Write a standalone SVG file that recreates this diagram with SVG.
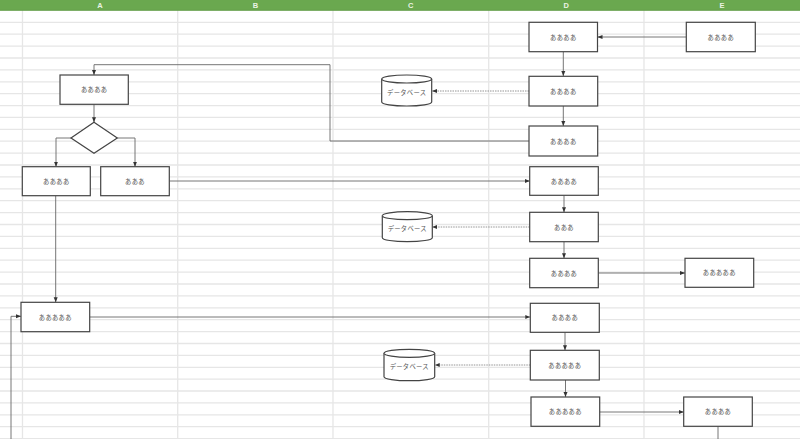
<svg xmlns="http://www.w3.org/2000/svg" width="800" height="439" viewBox="0 0 800 439">
<defs>
<style>
.grid{stroke:#e6e6e6;stroke-width:1.3;fill:none}
.hdr{fill:#6aa84f}
.hl{font-family:"Liberation Sans",Arial,sans-serif;font-size:7.5px;fill:#eaf3e4;text-anchor:middle;font-weight:bold}
.box{fill:#fff;stroke:#444;stroke-width:1.2}
.t{font-family:"Noto Sans CJK JP","Noto Sans",sans-serif;font-size:6.3px;letter-spacing:0.3px;fill:#555;text-anchor:middle;dominant-baseline:central}
.c{fill:none;stroke:#666;stroke-width:0.9}
.d{fill:none;stroke:#888;stroke-width:0.9;stroke-dasharray:1.5 1}
</style>
<marker id="ah" viewBox="0 0 10 10" refX="10" refY="5" markerWidth="5" markerHeight="5" orient="auto" markerUnits="userSpaceOnUse">
<path d="M0,1 L10,5 L0,9 Z" fill="#333"/>
</marker>
</defs>
<rect width="800" height="439" fill="#fff"/>
<g id="grid">
<path class="grid" d="M0 22.3H800M0 34.2H800M0 46.1H800M0 58H800M0 69.9H800M0 81.8H800M0 93.7H800M0 105.6H800M0 117.4H800M0 129.3H800M0 141.2H800M0 153.1H800M0 165H800M0 176.9H800M0 188.8H800M0 200.7H800M0 212.6H800M0 224.5H800M0 236.4H800M0 248.3H800M0 260.2H800M0 272.1H800M0 284H800M0 295.9H800M0 307.8H800M0 319.7H800M0 331.6H800M0 343.5H800M0 355.4H800M0 367.3H800M0 379.2H800M0 391H800M0 402.9H800M0 414.8H800M0 426.7H800M0 438.6H800"/>
<path class="grid" d="M22.5 10V439M177.7 10V439M333 10V439M488.7 10V439M644 10V439"/>
</g>
<g id="header">
<rect class="hdr" x="0" y="0" width="800" height="10.5"/>
<line x1="0" y1="10.3" x2="800" y2="10.3" stroke="#5f9a46" stroke-width="0.8"/>
<text class="hl" x="100" y="7.5">A</text>
<text class="hl" x="255.5" y="7.5">B</text>
<text class="hl" x="410.8" y="7.5">C</text>
<text class="hl" x="566.3" y="7.5">D</text>
<text class="hl" x="722" y="7.5">E</text>
</g>
<g id="connectors">
<path class="c" d="M686 37H597.5" marker-end="url(#ah)"/>
<path class="c" d="M563.3 51.7V76" marker-end="url(#ah)"/>
<path class="d" d="M529 91H432" marker-end="url(#ah)"/>
<path class="c" d="M563.3 106V126" marker-end="url(#ah)"/>
<path class="c" d="M529 141H330V64.7H94V75" marker-end="url(#ah)"/>
<path class="c" d="M94 104.3V122.3" marker-end="url(#ah)"/>
<path class="c" d="M71 138H56V166.7" marker-end="url(#ah)"/>
<path class="c" d="M117.3 138H135V166.7" marker-end="url(#ah)"/>
<path class="c" d="M169.3 181H529.7" marker-end="url(#ah)"/>
<path class="c" d="M564 195.3V212.3" marker-end="url(#ah)"/>
<path class="d" d="M529.7 227H432.3" marker-end="url(#ah)"/>
<path class="c" d="M564 241.7V258.3" marker-end="url(#ah)"/>
<path class="c" d="M598.3 273H685" marker-end="url(#ah)"/>
<path class="c" d="M55.7 195.7V302.3" marker-end="url(#ah)"/>
<path class="c" d="M89.7 317H530.3" marker-end="url(#ah)"/>
<path class="c" d="M11 439V316.3H21" marker-end="url(#ah)"/>
<path class="c" d="M565 332.3V350.3" marker-end="url(#ah)"/>
<path class="d" d="M530.3 365H434.7" marker-end="url(#ah)"/>
<path class="c" d="M565.5 380V397" marker-end="url(#ah)"/>
<path class="c" d="M599.7 412H683.7" marker-end="url(#ah)"/>
<path class="c" d="M718 426.3V439"/>
</g>
<g id="D1"><rect class="box" x="529" y="22.3" width="68.5" height="29.4"/><text class="t" x="563.3" y="37">ああああ</text></g>
<g id="E1"><rect class="box" x="686.3" y="22.3" width="69" height="29.4"/><text class="t" x="720.8" y="37">ああああ</text></g>
<g id="D2"><rect class="box" x="529" y="76.3" width="68.7" height="29.7"/><text class="t" x="563.3" y="91.2">ああああ</text></g>
<g id="DB1"><path class="box" d="M381.7 79A25 4 0 0 1 431.7 79V102A25 4 0 0 1 381.7 102Z"/><path class="box" fill="none" d="M381.7 79A25 4 0 0 0 431.7 79"/><text class="t" x="406.7" y="92">データベース</text></g>
<g id="D3"><rect class="box" x="529" y="126" width="68.7" height="30"/><text class="t" x="563.3" y="141">ああああ</text></g>
<g id="A1"><rect class="box" x="60" y="75" width="68.3" height="29.3"/><text class="t" x="94.2" y="89.7">ああああ</text></g>
<g id="DEC"><path class="box" d="M94 122.3L117.3 138L94 153.3L71 138Z"/></g>
<g id="A2"><rect class="box" x="22.3" y="166.7" width="68" height="29"/><text class="t" x="56.3" y="181.2">ああああ</text></g>
<g id="A3"><rect class="box" x="100.7" y="166.7" width="68.6" height="29"/><text class="t" x="135" y="181.2">あああ</text></g>
<g id="D4"><rect class="box" x="529.7" y="166.7" width="68.6" height="28.6"/><text class="t" x="564" y="181">ああああ</text></g>
<g id="D5"><rect class="box" x="529.7" y="212.3" width="68.6" height="29.4"/><text class="t" x="564" y="227">あああ</text></g>
<g id="DB2"><path class="box" d="M382.3 215.7A25 4 0 0 1 432.3 215.7V237.7A25 4 0 0 1 382.3 237.7Z"/><path class="box" fill="none" d="M382.3 215.7A25 4 0 0 0 432.3 215.7"/><text class="t" x="407.3" y="228.5">データベース</text></g>
<g id="D6"><rect class="box" x="529.7" y="258.3" width="68.6" height="29.4"/><text class="t" x="564" y="273">ああああ</text></g>
<g id="E2"><rect class="box" x="685" y="258.3" width="68.7" height="29"/><text class="t" x="719.3" y="272.8">あああああ</text></g>
<g id="A4"><rect class="box" x="21" y="302.3" width="68.7" height="29.4"/><text class="t" x="55.3" y="317">あああああ</text></g>
<g id="D7"><rect class="box" x="530.3" y="303.3" width="69" height="29"/><text class="t" x="564.8" y="317.8">ああああ</text></g>
<g id="D8"><rect class="box" x="530.3" y="350.3" width="69" height="29.7"/><text class="t" x="564.8" y="365.2">あああああ</text></g>
<g id="DB3"><path class="box" d="M384 353.3A25.3 4 0 0 1 434.7 353.3V376.7A25.3 4 0 0 1 384 376.7Z"/><path class="box" fill="none" d="M384 353.3A25.3 4 0 0 0 434.7 353.3"/><text class="t" x="409.3" y="366.5">データベース</text></g>
<g id="D9"><rect class="box" x="531" y="397" width="68.7" height="29.3"/><text class="t" x="565.3" y="411.7">あああああ</text></g>
<g id="E3"><rect class="box" x="683.7" y="397" width="68.6" height="29.3"/><text class="t" x="718" y="411.7">ああああ</text></g>
</svg>
